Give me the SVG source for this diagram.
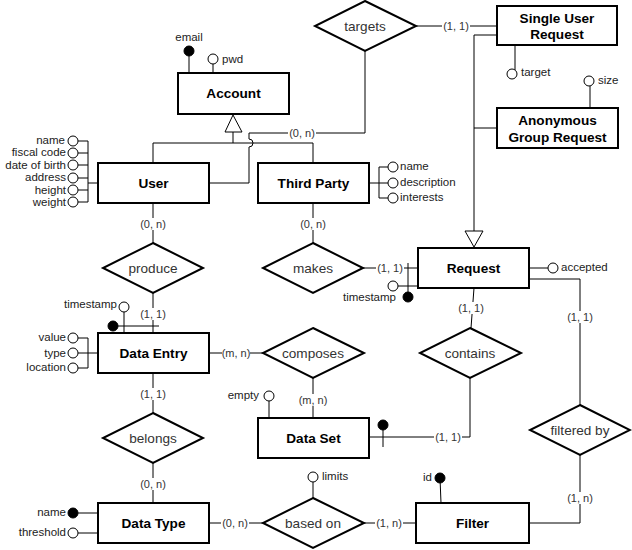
<svg xmlns="http://www.w3.org/2000/svg" width="632" height="550" viewBox="0 0 632 550">
<style>
.ent{fill:#fff;stroke:#000;stroke-width:2}
.rel{fill:#fff;stroke:#000;stroke-width:2}
.ln{fill:none;stroke:#000;stroke-width:1}
.et{font-family:"Liberation Sans",Arial,sans-serif;font-size:13.6px;font-weight:bold;fill:#000;text-anchor:middle;dominant-baseline:central}
.rt{font-family:"Liberation Sans",Arial,sans-serif;font-size:13.6px;fill:#333;text-anchor:middle;dominant-baseline:central}
.at{font-family:"Liberation Sans",Arial,sans-serif;font-size:11.5px;fill:#222;dominant-baseline:central}
.ae{text-anchor:end}
.am{text-anchor:middle}
.ct{font-family:"Liberation Sans",Arial,sans-serif;font-size:11px;fill:#333;text-anchor:middle;dominant-baseline:central}
.lb{fill:#fff;stroke:none}
.oc{fill:#fff;stroke:#000;stroke-width:1}
.fc{fill:#000;stroke:#000;stroke-width:1}
.tri{fill:#fff;stroke:#000;stroke-width:1}
</style>
<defs>
  <rect id="lbg" class="lb" x="-14" y="-6" width="28" height="12"/>
</defs>

<g id="connectors">
  <!-- generalization Account -->
  <polygon class="tri" points="233,115 225,132 242,132"/>
  <path class="ln" d="M233,132 V143 M153,163 V143 H313 V163"/>
  <!-- User to targets with hop -->
  <path class="ln" d="M209,183 H249 V147 A4,4 0 0 0 249,139 V133 H365 V51"/>
  <!-- targets to Single User Request -->
  <path class="ln" d="M416,26 H497"/>
  <!-- generalization Request -->
  <path class="ln" d="M497,35 H474 V231 M497,128 H474"/>
  <polygon class="tri" points="465,231 483,231 474,247"/>
  <!-- User - produce - Data Entry -->
  <path class="ln" d="M153,203 V243 M153,293 V333"/>
  <!-- Third Party - makes - Request -->
  <path class="ln" d="M313,203 V243 M363,268 H418"/>
  <!-- Request - contains - Data Set -->
  <path class="ln" d="M474,288 L471,328 M470,378 V437 H369"/>
  <!-- Request - filtered by - Filter -->
  <path class="ln" d="M529,279 H580 V405 M580,455 V523 H529"/>
  <!-- Data Entry - composes - Data Set -->
  <path class="ln" d="M209,353 H263 M313,378 V418"/>
  <!-- Data Entry - belongs - Data Type -->
  <path class="ln" d="M153,373 V413 M153,463 V503"/>
  <!-- Data Type - based on - Filter -->
  <path class="ln" d="M209,523 H263 M364,523 H416"/>

  <use href="#lbg" x="302" y="133"/><text class="ct" x="302" y="133">(0, n)</text>
  <use href="#lbg" x="456" y="26"/><text class="ct" x="456" y="26">(1, 1)</text>
  <use href="#lbg" x="153" y="224"/><text class="ct" x="153" y="224">(0, n)</text>
  <use href="#lbg" x="313" y="224"/><text class="ct" x="313" y="224">(0, n)</text>
  <use href="#lbg" x="153" y="314"/><text class="ct" x="153" y="314">(1, 1)</text>
  <use href="#lbg" x="390" y="268"/><text class="ct" x="390" y="268">(1, 1)</text>
  <use href="#lbg" x="471" y="308"/><text class="ct" x="471" y="308">(1, 1)</text>
  <use href="#lbg" x="580" y="317"/><text class="ct" x="580" y="317">(1, 1)</text>
  <use href="#lbg" x="236" y="353"/><text class="ct" x="236" y="353">(m, n)</text>
  <use href="#lbg" x="313" y="400"/><text class="ct" x="313" y="400">(m, n)</text>
  <use href="#lbg" x="448" y="437"/><text class="ct" x="448" y="437">(1, 1)</text>
  <use href="#lbg" x="153" y="394"/><text class="ct" x="153" y="394">(1, 1)</text>
  <use href="#lbg" x="153" y="484"/><text class="ct" x="153" y="484">(0, n)</text>
  <use href="#lbg" x="235" y="523"/><text class="ct" x="235" y="523">(0, n)</text>
  <use href="#lbg" x="389" y="523"/><text class="ct" x="389" y="523">(1, n)</text>
  <use href="#lbg" x="580" y="498"/><text class="ct" x="580" y="498">(1, n)</text>
</g>

<g id="account">
  <line class="ln" x1="189" y1="51" x2="189" y2="73"/>
  <circle class="fc" cx="189" cy="51" r="5"/>
  <text class="at am" x="189" y="37">email</text>
  <line class="ln" x1="213" y1="64" x2="213" y2="73"/>
  <circle class="oc" cx="213" cy="59" r="5"/>
  <text class="at" x="222" y="59">pwd</text>
  <rect class="ent" x="178" y="73" width="111" height="41"/>
  <text class="et" x="233.5" y="93.5">Account</text>
</g>

<g id="user">
  <path class="ln" d="M98,183 H88 M78,141 H88 V202 H78 M78,153 H88 M78,165 H88 M78,178 H88 M78,190 H88"/>
  <circle class="oc" cx="73" cy="141" r="5"/>
  <circle class="oc" cx="73" cy="153" r="5"/>
  <circle class="oc" cx="73" cy="165" r="5"/>
  <circle class="oc" cx="73" cy="178" r="5"/>
  <circle class="oc" cx="73" cy="190" r="5"/>
  <circle class="oc" cx="73" cy="202" r="5"/>
  <text class="at ae" x="65" y="140">name</text>
  <text class="at ae" x="66" y="152">fiscal code</text>
  <text class="at ae" x="66" y="165">date of birth</text>
  <text class="at ae" x="66" y="177">address</text>
  <text class="at ae" x="66" y="190">height</text>
  <text class="at ae" x="66" y="202">weight</text>
  <rect class="ent" x="98" y="163" width="111" height="40"/>
  <text class="et" x="153.5" y="183">User</text>
</g>

<g id="third-party">
  <path class="ln" d="M369,183 H388 M388,167 H379 V198 H388"/>
  <circle class="oc" cx="393" cy="167" r="5"/>
  <circle class="oc" cx="393" cy="183" r="5"/>
  <circle class="oc" cx="393" cy="198" r="5"/>
  <text class="at" x="400" y="166">name</text>
  <text class="at" x="400" y="182">description</text>
  <text class="at" x="400" y="197">interests</text>
  <rect class="ent" x="258" y="163" width="111" height="40"/>
  <text class="et" x="313.5" y="183">Third Party</text>
</g>

<g id="targets">
  <polygon class="rel" points="365,1 416,26 365,51 315,26"/>
  <text class="rt" x="365" y="26">targets</text>
</g>

<g id="single-user-request">
  <line class="ln" x1="515" y1="45" x2="515" y2="70"/>
  <circle class="oc" cx="512" cy="74" r="5"/>
  <text class="at" x="521" y="72">target</text>
  <rect class="ent" x="497" y="6" width="120" height="39"/>
  <text class="et" x="557" y="18">Single User</text>
  <text class="et" x="557" y="34">Request</text>
</g>

<g id="anonymous-group-request">
  <line class="ln" x1="590" y1="86" x2="590" y2="108"/>
  <circle class="oc" cx="589" cy="81" r="5"/>
  <text class="at" x="598" y="80">size</text>
  <rect class="ent" x="497" y="108" width="121" height="40"/>
  <text class="et" x="557.5" y="120">Anonymous</text>
  <text class="et" x="557.5" y="137">Group Request</text>
</g>

<g id="produce">
  <polygon class="rel" points="153,243 203,268 153,293 103,268"/>
  <text class="rt" x="153" y="268">produce</text>
</g>

<g id="makes">
  <polygon class="rel" points="313,243 363,268 313,293 263,268"/>
  <text class="rt" x="313" y="268">makes</text>
</g>

<g id="request">
  <path class="ln" d="M408,263 V297 M398,286 H418 M529,268 H548"/>
  <circle class="oc" cx="393" cy="286" r="5"/>
  <circle class="fc" cx="408" cy="297" r="5"/>
  <text class="at ae" x="396" y="297">timestamp</text>
  <circle class="oc" cx="553" cy="268" r="5"/>
  <text class="at" x="561" y="267">accepted</text>
  <rect class="ent" x="418" y="248" width="111" height="40"/>
  <text class="et" x="473.5" y="268">Request</text>
</g>

<g id="data-entry">
  <path class="ln" d="M113,326 H159 M124,312 V333"/>
  <circle class="fc" cx="113" cy="326" r="5"/>
  <circle class="oc" cx="124" cy="307" r="5"/>
  <text class="at ae" x="117" y="304">timestamp</text>
  <path class="ln" d="M98,353 H88 M78,338 H88 V368 H78 M78,353 H88"/>
  <circle class="oc" cx="73" cy="338" r="5"/>
  <circle class="oc" cx="73" cy="353" r="5"/>
  <circle class="oc" cx="73" cy="368" r="5"/>
  <text class="at ae" x="66" y="337">value</text>
  <text class="at ae" x="66" y="353">type</text>
  <text class="at ae" x="66" y="367">location</text>
  <rect class="ent" x="98" y="333" width="111" height="40"/>
  <text class="et" x="153.5" y="353">Data Entry</text>
</g>

<g id="composes">
  <polygon class="rel" points="313,328 364,353 313,378 263,353"/>
  <text class="rt" x="313" y="353">composes</text>
</g>

<g id="contains">
  <polygon class="rel" points="470,328 521,353 470,378 420,353"/>
  <text class="rt" x="470" y="353">contains</text>
</g>

<g id="filtered-by">
  <polygon class="rel" points="580,405 630,430 580,455 530,430"/>
  <text class="rt" x="580" y="430">filtered by</text>
</g>

<g id="belongs">
  <polygon class="rel" points="153,413 203,438 153,463 103,438"/>
  <text class="rt" x="153" y="438">belongs</text>
</g>

<g id="data-set">
  <path class="ln" d="M269,401 V418 M383,425 V447"/>
  <circle class="oc" cx="269" cy="396" r="5"/>
  <text class="at ae" x="259" y="395">empty</text>
  <circle class="fc" cx="383" cy="425" r="5"/>
  <rect class="ent" x="258" y="418" width="111" height="40"/>
  <text class="et" x="313.5" y="438">Data Set</text>
</g>

<g id="data-type">
  <path class="ln" d="M78,513 H98 M78,533 H98"/>
  <circle class="fc" cx="73" cy="513" r="5"/>
  <circle class="oc" cx="73" cy="533" r="5"/>
  <text class="at ae" x="66" y="512">name</text>
  <text class="at ae" x="66" y="532">threshold</text>
  <rect class="ent" x="98" y="503" width="111" height="40"/>
  <text class="et" x="153.5" y="523">Data Type</text>
</g>

<g id="based-on">
  <line class="ln" x1="313" y1="482" x2="313" y2="498"/>
  <circle class="oc" cx="313" cy="477" r="5"/>
  <text class="at" x="322" y="476">limits</text>
  <polygon class="rel" points="313,498 364,523 313,548 263,523"/>
  <text class="rt" x="313" y="523">based on</text>
</g>

<g id="filter">
  <line class="ln" x1="440" y1="478" x2="441" y2="503"/>
  <circle class="fc" cx="440" cy="478" r="5"/>
  <text class="at ae" x="432" y="477">id</text>
  <rect class="ent" x="416" y="503" width="113" height="40"/>
  <text class="et" x="472.5" y="523">Filter</text>
</g>
</svg>
